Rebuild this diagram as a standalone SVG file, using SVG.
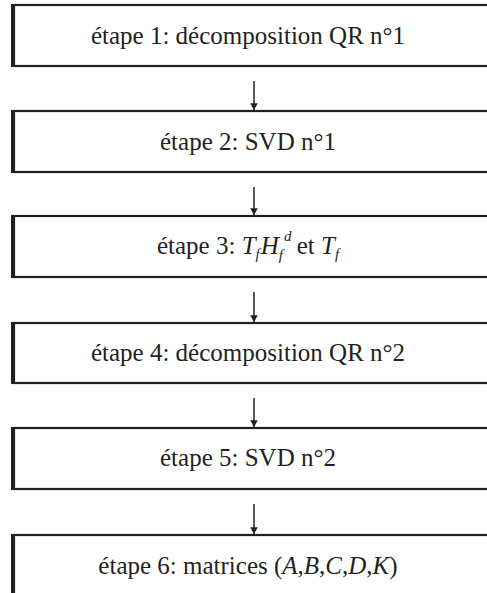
<svg xmlns="http://www.w3.org/2000/svg" width="487" height="593" viewBox="0 0 487 593">
<style>
.box{fill:#fff;stroke:#231f20;stroke-width:2.2}
.lft{stroke:#231f20;stroke-width:4}
.lbl{font-family:"Liberation Serif","Times New Roman",serif;font-size:25px;fill:#231f20;text-anchor:middle}
.it{font-style:italic}
.sub{font-size:15px}
.con{stroke:#231f20;stroke-width:1.5;fill:none;marker-end:url(#ah)}
</style>
<defs>
<marker id="ah" viewBox="0 0 6 8" refX="6" refY="4" markerWidth="7" markerHeight="9" markerUnits="userSpaceOnUse" orient="auto">
<path d="M0,0.6 L6,4 L0,7.4 Z" fill="#231f20"/>
</marker>
</defs>
<g id="connectors">
<line class="con" x1="254" y1="81" x2="254" y2="110"/>
<line class="con" x1="254" y1="187" x2="254" y2="215"/>
<line class="con" x1="254" y1="292" x2="254" y2="322"/>
<line class="con" x1="254" y1="398" x2="254" y2="427"/>
<line class="con" x1="254" y1="504" x2="254" y2="534"/>
</g>
<g id="n1">
<rect class="box" x="14" y="5" width="490" height="61"/>
<line class="lft" x1="13" y1="4" x2="13" y2="67"/>
<text class="lbl" x="248" y="44">étape 1: décomposition QR n°1</text>
</g>
<g id="n2">
<rect class="box" x="14" y="111" width="490" height="61"/>
<line class="lft" x1="13" y1="110" x2="13" y2="173"/>
<text class="lbl" x="248" y="150">étape 2: SVD n°1</text>
</g>
<g id="n3">
<rect class="box" x="14" y="216" width="490" height="61"/>
<line class="lft" x1="13" y1="215" x2="13" y2="278"/>
<text class="lbl" x="248" y="254">étape 3: <tspan class="it">T</tspan><tspan class="it sub" dy="5">f</tspan><tspan class="it" dx="1" dy="-5">H</tspan><tspan class="it sub" dx="0" dy="6">f</tspan><tspan class="it sub" dx="1" dy="-19">d</tspan><tspan dx="-1" dy="13"> et </tspan><tspan class="it">T</tspan><tspan class="it sub" dy="5">f</tspan></text>
</g>
<g id="n4">
<rect class="box" x="14" y="323" width="490" height="60"/>
<line class="lft" x1="13" y1="322" x2="13" y2="384"/>
<text class="lbl" x="248" y="361">étape 4: décomposition QR n°2</text>
</g>
<g id="n5">
<rect class="box" x="14" y="428" width="490" height="61"/>
<line class="lft" x1="13" y1="427" x2="13" y2="490"/>
<text class="lbl" x="248" y="466">étape 5: SVD n°2</text>
</g>
<g id="n6">
<rect class="box" x="14" y="535" width="490" height="80"/>
<line class="lft" x1="13" y1="534" x2="13" y2="600"/>
<text class="lbl" x="248" y="574">étape 6: matrices (<tspan class="it">A</tspan>,<tspan class="it">B</tspan>,<tspan class="it">C</tspan>,<tspan class="it">D</tspan>,<tspan class="it">K</tspan>)</text>
</g>
</svg>
